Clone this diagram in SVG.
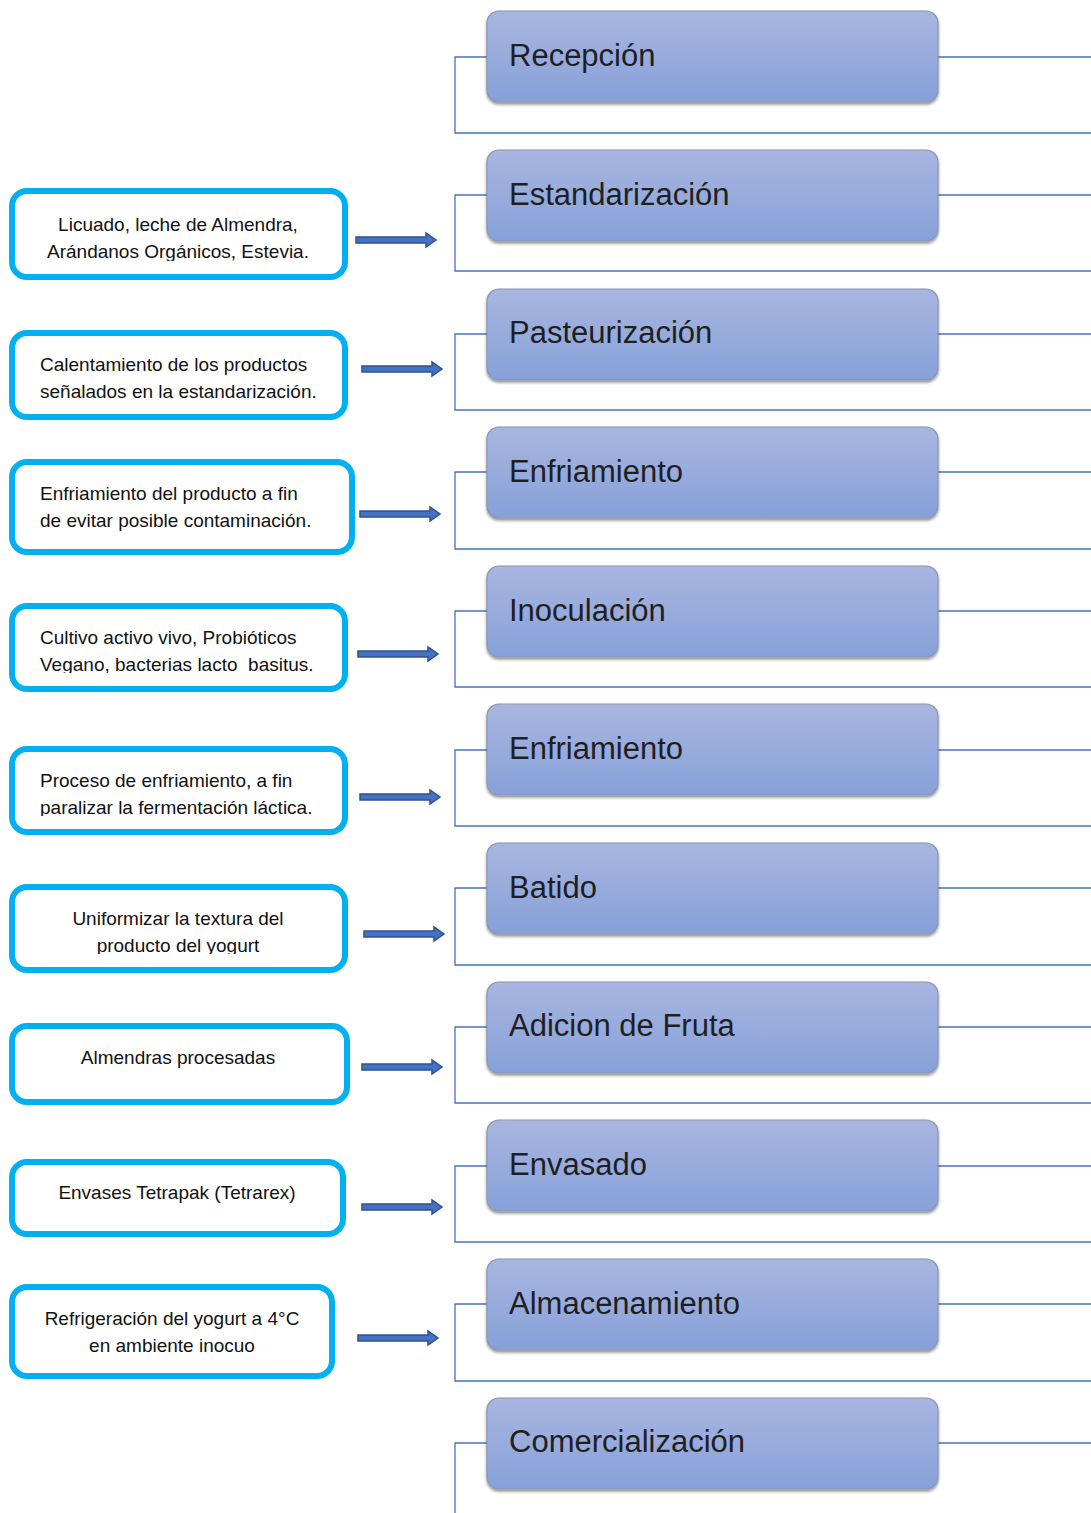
<svg xmlns="http://www.w3.org/2000/svg" width="1091" height="1513" viewBox="0 0 1091 1513">
<defs>
<linearGradient id="g" x1="0" y1="0" x2="0" y2="1">
<stop offset="0" stop-color="#a8b6e0"/>
<stop offset="1" stop-color="#87a0d9"/>
</linearGradient>
<filter id="sh" x="-5%" y="-10%" width="110%" height="130%">
<feGaussianBlur in="SourceAlpha" stdDeviation="1.5"/>
<feOffset dx="0" dy="2" result="b"/>
<feComponentTransfer><feFuncA type="linear" slope="0.45"/></feComponentTransfer>
<feMerge><feMergeNode/><feMergeNode in="SourceGraphic"/></feMerge>
</filter>
<path id="arr" d="M0,-3 H70 V-7 L80,0 L70,7 V3 H0 Z"/>
<clipPath id="k1"><rect x="12" y="191" width="333" height="70"/></clipPath>
<clipPath id="k4"><rect x="12" y="606" width="333" height="67"/></clipPath>
<clipPath id="k5"><rect x="12" y="749" width="333" height="67"/></clipPath>
<clipPath id="k6"><rect x="12" y="887" width="333" height="67"/></clipPath>
</defs>
<style>
.step rect{fill:url(#g);stroke:#8a95b0;stroke-width:1.2;filter:url(#sh)}
.step text{font-family:"Liberation Sans",Arial,sans-serif;font-size:31px;fill:#1f1f1f}
.note rect{fill:#fff;stroke:#00b0f0;stroke-width:6}
.note text{font-family:"Liberation Sans",Arial,sans-serif;font-size:19px;fill:#111}
.c{text-anchor:middle}
.conn path{fill:none;stroke:#4472c4;stroke-width:1.3}
.arrows use{fill:#4472c4;stroke:#2f528f;stroke-width:1.5}
</style>

<g class="conn" id="connectors">
<path d="M487,57 H455 V133 H1091 M938,57 H1091"/>
<path d="M487,195 H455 V271 H1091 M938,195 H1091"/>
<path d="M487,334 H455 V410 H1091 M938,334 H1091"/>
<path d="M487,472 H455 V549 H1091 M938,472 H1091"/>
<path d="M487,611 H455 V687 H1091 M938,611 H1091"/>
<path d="M487,750 H455 V826 H1091 M938,750 H1091"/>
<path d="M487,888 H455 V965 H1091 M938,888 H1091"/>
<path d="M487,1027 H455 V1103 H1091 M938,1027 H1091"/>
<path d="M487,1166 H455 V1242 H1091 M938,1166 H1091"/>
<path d="M487,1304 H455 V1381 H1091 M938,1304 H1091"/>
<path d="M487,1443 H455 V1513 M938,1443 H1091"/>
</g>

<g class="arrows" id="arrows">
<use href="#arr" x="356" y="240"/>
<use href="#arr" x="362" y="369"/>
<use href="#arr" x="360" y="514"/>
<use href="#arr" x="358" y="654"/>
<use href="#arr" x="360" y="797"/>
<use href="#arr" x="364" y="934"/>
<use href="#arr" x="362" y="1067"/>
<use href="#arr" x="362" y="1207"/>
<use href="#arr" x="358" y="1338"/>
</g>

<g class="step" id="recepcion"><rect x="487" y="11" width="451" height="91" rx="12"/><text x="509" y="66">Recepción</text></g>
<g class="step" id="estandarizacion"><rect x="487" y="150" width="451" height="91" rx="12"/><text x="509" y="205">Estandarización</text></g>
<g class="step" id="pasteurizacion"><rect x="487" y="289" width="451" height="91" rx="12"/><text x="509" y="343">Pasteurización</text></g>
<g class="step" id="enfriamiento1"><rect x="487" y="427" width="451" height="91" rx="12"/><text x="509" y="482">Enfriamiento</text></g>
<g class="step" id="inoculacion"><rect x="487" y="566" width="451" height="91" rx="12"/><text x="509" y="621">Inoculación</text></g>
<g class="step" id="enfriamiento2"><rect x="487" y="704" width="451" height="91" rx="12"/><text x="509" y="759">Enfriamiento</text></g>
<g class="step" id="batido"><rect x="487" y="843" width="451" height="91" rx="12"/><text x="509" y="898">Batido</text></g>
<g class="step" id="adicion"><rect x="487" y="982" width="451" height="91" rx="12"/><text x="509" y="1036">Adicion de Fruta</text></g>
<g class="step" id="envasado"><rect x="487" y="1120" width="451" height="91" rx="12"/><text x="509" y="1175">Envasado</text></g>
<g class="step" id="almacenamiento"><rect x="487" y="1259" width="451" height="91" rx="12"/><text x="509" y="1314">Almacenamiento</text></g>
<g class="step" id="comercializacion"><rect x="487" y="1398" width="451" height="91" rx="12"/><text x="509" y="1452">Comercialización</text></g>

<g class="note" id="n1"><rect x="12" y="191" width="333" height="86" rx="15"/><g clip-path="url(#k1)"><text class="c" x="178" y="231">Licuado, leche de Almendra,</text><text class="c" x="178" y="258">Arándanos Orgánicos, Estevia.</text></g></g>
<g class="note" id="n2"><rect x="12" y="333" width="333" height="84" rx="15"/><text x="40" y="371">Calentamiento de los productos</text><text x="40" y="398">señalados en la estandarización.</text></g>
<g class="note" id="n3"><rect x="12" y="462" width="340" height="90" rx="15"/><text x="40" y="500">Enfriamiento del producto a fin</text><text x="40" y="527">de evitar posible contaminación.</text></g>
<g class="note" id="n4"><rect x="12" y="606" width="333" height="83" rx="15"/><g clip-path="url(#k4)"><text x="40" y="644">Cultivo activo vivo, Probióticos</text><text x="40" y="671">Vegano, bacterias lacto&#160; basitus.</text></g></g>
<g class="note" id="n5"><rect x="12" y="749" width="333" height="83" rx="15"/><g clip-path="url(#k5)"><text x="40" y="787">Proceso de enfriamiento, a fin</text><text x="40" y="814">paralizar la fermentación láctica.</text></g></g>
<g class="note" id="n6"><rect x="12" y="887" width="333" height="83" rx="15"/><g clip-path="url(#k6)"><text class="c" x="178" y="925">Uniformizar la textura del</text><text class="c" x="178" y="952">producto del yogurt</text></g></g>
<g class="note" id="n7"><rect x="12" y="1026" width="335" height="76" rx="15"/><text class="c" x="178" y="1064">Almendras procesadas</text></g>
<g class="note" id="n8"><rect x="12" y="1162" width="331" height="72" rx="15"/><text class="c" x="177" y="1199">Envases Tetrapak (Tetrarex)</text></g>
<g class="note" id="n9"><rect x="12" y="1287" width="320" height="89" rx="15"/><text class="c" x="172" y="1325">Refrigeración del yogurt a 4°C</text><text class="c" x="172" y="1352">en ambiente inocuo</text></g>
</svg>
